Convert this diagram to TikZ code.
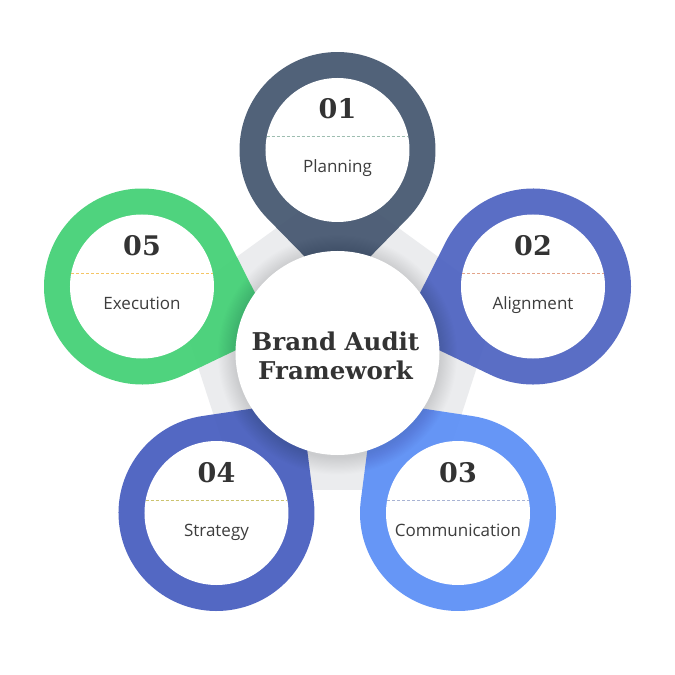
\documentclass[tikz,border=0pt]{standalone}
\usepackage{fontspec}
\setmainfont{Open Sans}
\newfontfamily\serifnum{DejaVu Serif}
\usetikzlibrary{calc}
\definecolor{pentgray}{HTML}{EBECEE}
\definecolor{cA}{HTML}{43556E}
\definecolor{cB}{HTML}{4C62C1}
\definecolor{cC}{HTML}{5A8EF6}
\definecolor{cD}{HTML}{455CBE}
\definecolor{cE}{HTML}{41D074}
\definecolor{dA}{HTML}{9DBDB0}
\definecolor{dB}{HTML}{E3A48A}
\definecolor{dC}{HTML}{A8B3D3}
\definecolor{dD}{HTML}{CBC36F}
\definecolor{dE}{HTML}{F5C565}
\definecolor{txt}{HTML}{333333}
\tikzset{
  numstyle/.style={font=\serifnum\bfseries\fontsize{27}{27}\selectfont, text=txt, inner sep=0pt},
  labstyle/.style={font=\fontsize{17}{17}\selectfont, text=txt!95!white, inner sep=0pt},
  titlestyle/.style={font=\serifnum\bfseries\fontsize{24.5}{24.5}\selectfont, text=txt, inner sep=0pt},
  innercirc/.style={circle, fill=white, minimum size=144pt, inner sep=0pt},
  dashline/.style={line width=1pt, dash pattern=on 3pt off 2pt}
}
\newcommand{\drawpin}[8]{%
  \coordinate (#1) at (#2,#3);
  \begin{scope}[shift={(#1)}, rotate=#4]
    \fill[#5, fill opacity=0.92] (45.57:98) arc[start angle=45.57, end angle=314.43, radius=98] -- (140,0) -- cycle;
  \end{scope}
  \node[innercirc] (#1in) at (#1) {};
  \coordinate (#1dl) at ($(#1)+(-70.8,13)$);
  \coordinate (#1dr) at ($(#1)+(70.8,13)$);
  \draw[#6, dashline] (#1dl) -- (#1dr);
  \node[numstyle, anchor=base] (#1num) at ($(#1)+(0,31)$) {#7};
  \node[labstyle, anchor=base] (#1lab) at ($(#1)+(0,-23)$) {#8};
}
\begin{document}
\begin{tikzpicture}[x=1pt,y=1pt]
\useasboundingbox (-337.5,-322) rectangle (337.5,353);
\fill[white] (-337.5,-322) rectangle (337.5,353);
% background pentagon
\fill[pentgray, rounded corners=18] (90:169.3) -- (162:169.3) -- (234:169.3) -- (306:169.3) -- (18:169.3) -- cycle;
% pins
\drawpin{p1}{0}{203}{-90}{cA}{dA}{01}{Planning}
\drawpin{p2}{195.5}{66.5}{198.8}{cB}{dB}{02}{Alignment}
\drawpin{p3}{120.5}{-160}{127}{cC}{dC}{03}{Communication}
\drawpin{p4}{-121}{-160}{52.9}{cD}{dD}{04}{Strategy}
\drawpin{p5}{-195.5}{66.5}{-18.8}{cE}{dE}{05}{Execution}
% soft shadow around the centre
\foreach \i in {1,...,16} {
  \fill[black, fill opacity=0.007] (0,-2) circle (102+\i*1.1);
}
% centre circle
\node[circle, fill=white, minimum size=204pt, inner sep=0pt] (center) at (0,0) {};
\node[titlestyle, anchor=base] (title1) at (-2,2.3) {Brand Audit};
\node[titlestyle, anchor=base] (title2) at (-2,-26) {Framework};
\end{tikzpicture}
\end{document}
